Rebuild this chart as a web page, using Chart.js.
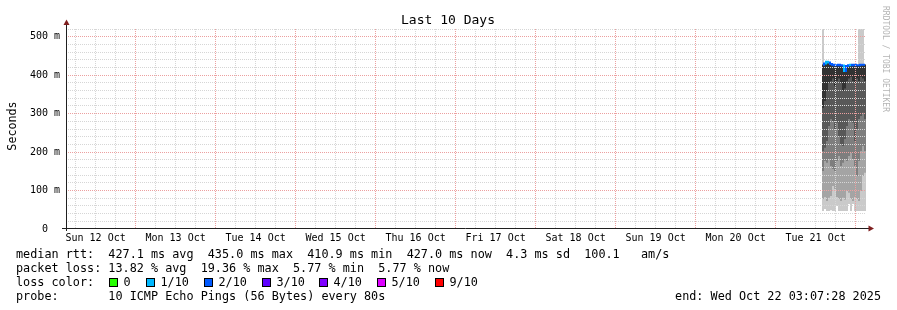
<!DOCTYPE html>
<html>
<head>
<meta charset="utf-8">
<title>Last 10 Days</title>
<script src="https://cdn.jsdelivr.net/npm/chart.js@4.4.1/dist/chart.umd.min.js"></script>
<style>
  html, body { margin: 0; padding: 0; background: #fff; }
</style>
</head>
<body>
<canvas id="smoke_chart" width="897" height="310"></canvas>
<script>
// x values are hours since the graph start (Sun 12 Oct 03:07:28), 240 h in total
const startOffset = 3 + 7 / 60 + 28 / 3600;
const dayLabels = ['Sun 12 Oct', 'Mon 13 Oct', 'Tue 14 Oct', 'Wed 15 Oct', 'Thu 16 Oct',
                   'Fri 17 Oct', 'Sat 18 Oct', 'Sun 19 Oct', 'Mon 20 Oct', 'Tue 21 Oct'];

// consolidated rows (36 min each) on Tue 21 Oct afternoon -> Wed 22 Oct early morning
const slotHours = [227.1, 227.7, 228.3, 228.9, 229.5, 230.1, 230.7, 231.3, 231.9, 232.5, 233.1,
                   233.7, 234.3, 234.9, 235.5, 236.1, 236.7, 237.3, 237.9, 238.5, 239.1, 239.7];

// median rtt in ms and lost pings (out of 10)
const median = [427, 430, 435, 433, 429, 427, 426, 426, 427, 426, 425,
                411, 424, 426, 427, 426, 427, 426, 426, 427, 427, 427];
const lossTenths = [2, 2, 1, 1, 2, 2, 2, 2, 2, 2, 2, 1, 2, 2, 1, 2, 2, 2, 2, 2, 2, 2];

// smoke bands (ms): outermost pair of pings ... innermost pair
const smoke1Low = [47, 52, 47, 47, 49, 47, 47, 60, 47, 47, 47, 47, 47, 65, 47, 65, 47, 47, 47, 47, 47, 47];
const smoke1High = [600, 430, 435, 433, 429, 427, 426, 426, 427, 426, 425, 411, 424, 426, 427, 426, 427, 426, 600, 600, 600, 427];
const smoke2Low = [78, 83, 73, 81, 86, 112, 104, 83, 78, 73, 81, 76, 99, 94, 78, 73, 83, 78, 73, 99, 138, 146];
const smoke3Low = [151, 177, 172, 182, 164, 156, 151, 177, 190, 164, 172, 182, 177, 190, 198, 182, 164, 138, 177, 203, 216, 203];
const smoke4Low = [203, 211, 229, 268, 286, 281, 260, 276, 242, 221, 216, 234, 268, 286, 281, 276, 229, 260, 286, 294, 302, 286];
const smoke5Low = [315, 333, 359, 380, 385, 391, 372, 385, 391, 380, 359, 365, 385, 391, 396, 385, 380, 391, 385, 396, 391, 385];

const lossColors = { 0: '#26ff00', 1: '#00b8ff', 2: '#0059ff', 3: '#5e00ff', 4: '#7e00ff', 5: '#dd00ff', 9: '#ff0000' };
const lossLabels = ['0', '1/10', '2/10', '3/10', '4/10', '5/10', '9/10'];
const lossKeys = [0, 1, 2, 3, 4, 5, 9];

const MONO = '"DejaVu Sans Mono", monospace';
const majorGrid = '#eca0a0';
const minorGrid = '#d6d6d6';

function band(low, high) {
    return slotHours.map((h, i) => ({ x: h, y: [low[i], high[i]] }));
}

function smokeSet(low, high, color, order) {
    return {
        type: 'bar',
        data: band(low, high),
        backgroundColor: color,
        borderWidth: 0,
        borderSkipped: false,
        inflateAmount: 0,
        barPercentage: 1,
        categoryPercentage: 1,
        grouped: false,
        order: order
    };
}

const legendPlugin = {
    id: 'rrdText',
    afterDraw(chart) {
        const ctx = chart.ctx;
        ctx.save();
        ctx.fillStyle = '#000';
        ctx.textBaseline = 'alphabetic';

        // title
        ctx.font = '13px ' + MONO;
        ctx.textAlign = 'center';
        ctx.fillText('Last 10 Days', 448, 24);

        // y title
        ctx.save();
        ctx.font = '11.7px ' + MONO;
        ctx.translate(15.5, 126);
        ctx.rotate(-Math.PI / 2);
        ctx.fillText('Seconds', 0, 0);
        ctx.restore();

        // watermark
        ctx.save();
        ctx.font = '8px ' + MONO;
        ctx.fillStyle = '#b4b4b4';
        ctx.textAlign = 'left';
        ctx.translate(883, 6);
        ctx.rotate(Math.PI / 2);
        ctx.fillText('RRDTOOL / TOBI OETIKER', 0, 0);
        ctx.restore();

        // axes with arrows
        ctx.strokeStyle = '#1f1f1f';
        ctx.lineWidth = 1;
        ctx.beginPath();
        ctx.moveTo(62, 228.5); ctx.lineTo(869, 228.5);
        ctx.moveTo(66.5, 231); ctx.lineTo(66.5, 24);
        ctx.stroke();
        ctx.fillStyle = '#7f1f1f';
        ctx.beginPath();
        ctx.moveTo(66.5, 19.5); ctx.lineTo(63.5, 25); ctx.lineTo(69.5, 25); ctx.closePath();
        ctx.fill();
        ctx.beginPath();
        ctx.moveTo(874, 228.5); ctx.lineTo(868.5, 225.5); ctx.lineTo(868.5, 231.5); ctx.closePath();
        ctx.fill();

        // legend lines
        ctx.fillStyle = '#000';
        ctx.font = '11.8px ' + MONO;
        ctx.textAlign = 'left';
        ctx.fillText('median rtt:  427.1 ms avg  435.0 ms max  410.9 ms min  427.0 ms now  4.3 ms sd  100.1   am/s', 16, 258);
        ctx.fillText('packet loss: 13.82 % avg  19.36 % max  5.77 % min  5.77 % now', 16, 272);
        ctx.fillText('loss color:', 16, 286);
        ctx.fillText('probe:       10 ICMP Echo Pings (56 Bytes) every 80s', 16, 300);
        ctx.textAlign = 'right';
        ctx.fillText('end: Wed Oct 22 03:07:28 2025', 881, 300);

        const boxX = [109, 146, 204, 262, 319, 377, 435];
        ctx.textAlign = 'left';
        lossKeys.forEach((k, i) => {
            ctx.fillStyle = lossColors[k];
            ctx.fillRect(boxX[i], 278, 9, 9);
            ctx.strokeStyle = '#000';
            ctx.strokeRect(boxX[i] + 0.5, 278.5, 8, 8);
            ctx.fillStyle = '#000';
            ctx.fillText(lossLabels[i], boxX[i] + 14.5, 286);
        });
        ctx.restore();
    }
};

const smoke_ctx = document.getElementById('smoke_chart').getContext('2d');
const smoke_chart = new Chart(smoke_ctx, {
    type: 'bar',
    data: {
        datasets: [
            {
                type: 'line',
                label: 'median rtt',
                data: slotHours.map((h, i) => ({ x: h, y: median[i] })),
                borderColor: lossColors[2],
                borderWidth: 2,
                pointRadius: 0,
                stepped: 'middle',
                segment: {
                    borderColor: c => lossColors[lossTenths[c.p1DataIndex]]
                },
                order: 0
            },
            smokeSet(smoke5Low, median, '#323232', 1),
            smokeSet(smoke4Low, median, '#585858', 2),
            smokeSet(smoke3Low, median, '#7e7e7e', 3),
            smokeSet(smoke2Low, median, '#a4a4a4', 4),
            smokeSet(smoke1Low, smoke1High, '#cacaca', 5)
        ]
    },
    options: {
        responsive: false,
        animation: false,
        layout: { padding: { top: 29, right: 31, left: 0, bottom: 0 } },
        plugins: {
            legend: { display: false },
            tooltip: { enabled: false }
        },
        scales: {
            x: {
                type: 'linear',
                min: 0,
                max: 240,
                offset: false,
                afterFit: s => { s.height = 81; },
                afterBuildTicks: s => {
                    const t = [];
                    for (let k = 1; k <= 40; k++) t.push({ value: 6 * k - startOffset });
                    s.ticks = t;
                },
                grid: {
                    offset: false,
                    z: 1,
                    drawTicks: false,
                    color: c => Math.round((c.tick.value + startOffset) / 6) % 4 === 0 ? majorGrid : minorGrid
                },
                border: { display: false, dash: [1, 1] },
                ticks: {
                    autoSkip: false,
                    maxRotation: 0,
                    padding: 3,
                    color: '#000',
                    font: { family: MONO, size: 10 },
                    callback: v => {
                        const k = Math.round((v + startOffset) / 6);
                        return k % 4 === 2 ? dayLabels[(k - 2) / 4] : '';
                    }
                }
            },
            y: {
                min: 0,
                max: 520,
                afterFit: s => { s.width = 66; },
                afterBuildTicks: s => {
                    const t = [];
                    for (let v = 0; v <= 520; v += 20) t.push({ value: v });
                    s.ticks = t;
                },
                grid: {
                    z: 1,
                    drawTicks: false,
                    color: c => {
                        const v = Math.round(c.tick.value);
                        if (v === 0) return 'rgba(0,0,0,0)';
                        return v % 100 === 0 ? majorGrid : minorGrid;
                    }
                },
                border: { display: false, dash: [1, 1] },
                ticks: {
                    autoSkip: false,
                    padding: 6,
                    color: '#000',
                    font: { family: MONO, size: 10 },
                    callback: v => v === 0 ? '0  ' : (v % 100 === 0 ? v + ' m' : '')
                }
            }
        }
    },
    plugins: [legendPlugin]
});
</script>
</body>
</html>
